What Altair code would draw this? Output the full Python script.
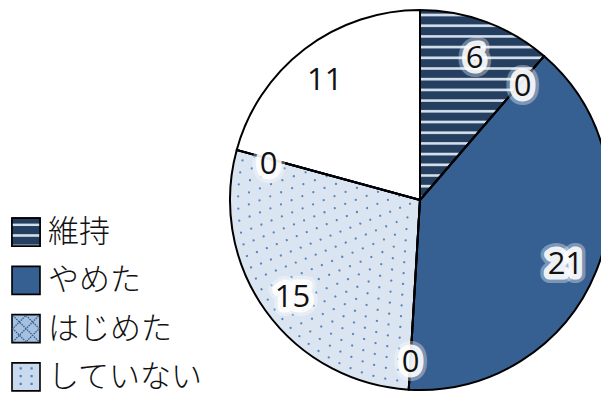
import math
import altair as alt
import pandas as pd

# ---- data ----
categories = ["維持", "縮小", "やめた", "はじめた", "していない", "検討中", "その他"]
values = [6, 0, 21, 0, 15, 0, 11]
fill_colors = ["#243f60", "#366092", "#366092", "#95b3d7", "#dbe5f1", "#dbe5f1", "#ffffff"]

legend_items = ["維持", "やめた", "はじめた", "していない"]
legend_colors = ["#243f60", "#366092", "#a7c0df", "#c9daee"]

total = sum(values)
CX, CY, R = 412, 192, 190
LABEL_R = 157

df = pd.DataFrame({"cat": categories, "val": values, "i": list(range(len(values)))})
leg_df = pd.DataFrame({"cat": legend_items, "col": legend_colors})


def stripes(centers, half, soft, dark, light):
    def cl(v):
        return max(0.0, min(1.0, v))
    stops = [alt.GradientStop(offset=0, color=dark)]
    for c in centers:
        for off, col in ((c - half - soft, dark), (c - half, light), (c + half, light), (c + half + soft, dark)):
            stops.append(alt.GradientStop(offset=cl(off), color=col))
    stops.append(alt.GradientStop(offset=1, color=dark))
    return alt.LinearGradient(gradient="linear", stops=stops, x1=0, x2=0, y1=0, y2=1)


# stripe period ~10.7px over the wedge bounding box (190px tall)
wedge_centers = []
c = 5 / 190
while c < 1:
    wedge_centers.append(c)
    c += 10.7 / 190
wedge_grad = stripes(wedge_centers, 0.004, 0.006, "#243f60", "#d4deeb")
legend_grad = stripes([0.24, 0.62, 0.99], 0.03, 0.03, "#243f60", "#d4deeb")

theta_scale = alt.Scale(domain=[0, total], range=[0, 2 * math.pi])

base = (
    alt.Chart(df)
    .transform_window(cum="sum(val)", sort=[alt.SortField("i")], frame=[None, 0])
    .transform_calculate(start="datum.cum - datum.val", mid="datum.cum - datum.val / 2")
)

enc = dict(
    x=alt.value(CX),
    y=alt.value(CY),
    theta=alt.Theta("start:Q", scale=theta_scale, stack=None),
    theta2=alt.Theta2("cum:Q"),
)

fills = base.mark_arc(radius=R).encode(
    fill=alt.Fill("cat:N", scale=alt.Scale(domain=categories, range=fill_colors), legend=None),
    **enc,
)

stripe_layer = base.transform_filter(alt.datum.cat == "維持").mark_arc(radius=R, fill=wedge_grad).encode(**enc)

dots_layer = (
    base.transform_filter(alt.datum.cat == "していない")
    .transform_calculate(k="sequence(1, 18)")
    .transform_flatten(["k"])
    .transform_calculate(rr="datum.k * 10.7")
    .mark_arc(fillOpacity=0, stroke="#5a86c0", strokeWidth=2.2, strokeCap="round", strokeDash=[0.1, 12])
    .encode(radius=alt.Radius("rr:Q", scale=None), **enc)
)

outline = base.mark_arc(radius=R, fillOpacity=0, stroke="black", strokeWidth=2).encode(**enc)

lab_enc = dict(
    x=alt.value(CX),
    y=alt.value(CY),
    theta=alt.Theta("mid:Q", scale=theta_scale, stack=None),
    text=alt.Text("val:Q"),
)
label_style = dict(radius=LABEL_R, fontSize=31, font="Open Sans", align="center", baseline="middle", dy=6)
glow_outer = base.mark_text(color="white", stroke="white", strokeWidth=18, strokeOpacity=0.35, strokeJoin="round", **label_style).encode(**lab_enc)
glow_inner = base.mark_text(color="white", stroke="white", strokeWidth=11, strokeOpacity=0.9, strokeJoin="round", **label_style).encode(**lab_enc)
labels = base.mark_text(color="#111111", **label_style).encode(**lab_enc)

# ---- legend ----
ly = alt.Y("cat:N", scale=alt.Scale(domain=legend_items, range=[200, 393]), axis=None)
leg = alt.Chart(leg_df)
leg_sq = leg.mark_square(size=784, opacity=1, filled=True, stroke="black", strokeWidth=1.6).encode(
    x=alt.value(18), y=ly, fill=alt.Fill("col:N", scale=None)
)
leg_stripe = leg.transform_filter(alt.datum.cat == "維持").mark_square(
    size=784, opacity=1, fill=legend_grad, stroke="black", strokeWidth=1.6
).encode(x=alt.value(18), y=ly)
leg_hatch = leg.transform_filter(alt.datum.cat == "はじめた").mark_point(
    shape="M-1,-1L1,1M-1,1L1,-1M0,-1L1,0L0,1L-1,0Z",
    size=700, filled=False, opacity=1, stroke="#2f5d8f", strokeWidth=1.3, strokeDash=[1.5, 1],
).encode(x=alt.value(18), y=ly)
dot_path = ""
for dx in (-0.38, 0.4):
    for dy in (-0.6, -0.05, 0.5):
        dot_path += f"M{dx-0.08:.2f},{dy-0.08:.2f}h0.16v0.16h-0.16Z"
leg_dots = leg.transform_filter(alt.datum.cat == "していない").mark_point(
    shape=dot_path, size=784, filled=True, opacity=1, fill="#4f81bd", strokeWidth=0
).encode(x=alt.value(18), y=ly)
leg_text = leg.mark_text(
    align="left", baseline="middle", fontSize=31, font="Noto Sans CJK JP", fontWeight=300, color="#111111", dy=1
).encode(x=alt.value(40), y=ly, text="cat:N")

chart = (
    alt.layer(fills, stripe_layer, dots_layer, outline, glow_outer, glow_inner, labels,
              leg_sq, leg_stripe, leg_hatch, leg_dots, leg_text)
    .properties(width=593, height=400, padding=0, autosize="none")
    .configure_view(stroke=None)
)

chart.save("out.html", embed_options={"renderer": "svg", "actions": False})
